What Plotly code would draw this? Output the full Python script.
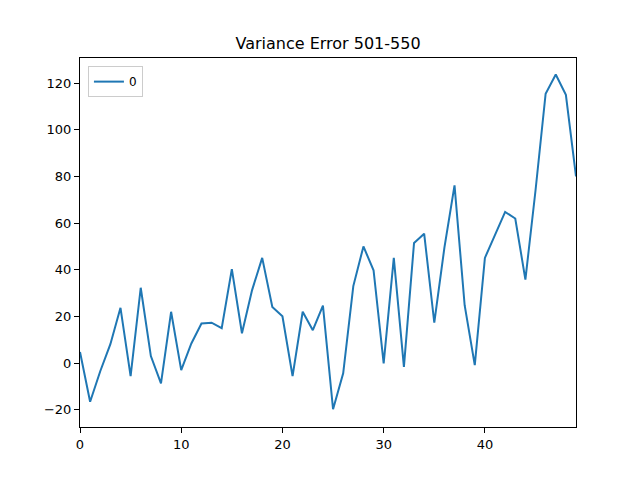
import plotly.graph_objs as go

# 501-550 구간 분산 오차
idx = list(range(50))
err = [4.8, -16.6, -3.5, 8.1, 23.7, -5.6, 32.3, 3.0, -8.7, 22.0,
       -3.0, 8.4, 17.0, 17.3, 15.0, 40.3, 12.8, 31.3, 45.1, 24.1,
       20.1, -5.6, 22.0, 14.1, 24.6, -19.8, -4.4, 33.0, 50.0, 39.8,
       -0.1, 45.1, -1.6, 51.5, 55.5, 17.3, 49.5, 76.2, 24.8, -0.9,
       45.1, 55.2, 64.8, 62.0, 35.8, 74.0, 115.5, 123.7, 115.0, 80.0]

fig = go.Figure()
fig.add_trace(go.Scatter(
    x=idx, y=err, mode='lines', name='0',
    line=dict(color='#1f77b4', width=2)
))

axis_style = dict(
    showline=True, linecolor='black', linewidth=1, mirror=True,
    ticks='outside', ticklen=5, tickcolor='black', showgrid=False,
    zeroline=False, tickfont=dict(size=13, color='black')
)

# 페이지 body 여백(8px)만큼 안쪽으로 보정
fig.update_layout(
    width=640, height=480,
    paper_bgcolor='white', plot_bgcolor='white',
    margin=dict(l=72, r=72, t=50, b=61),
    font=dict(family='DejaVu Sans', size=13, color='black'),
    title=dict(text='Variance Error 501-550', x=0.5, xanchor='center',
               y=1 - 35 / 480, yanchor='middle', yref='container',
               font=dict(size=16, color='black')),
    showlegend=True,
    legend=dict(x=0.016, y=0.978, xanchor='left', yanchor='top',
                bordercolor='#cccccc', borderwidth=1,
                font=dict(size=12), tracegroupgap=0),
)
fig.update_xaxes(range=[0, 49], tickvals=[0, 10, 20, 30, 40], **axis_style)
fig.update_yaxes(range=[-27.4, 130.8], tickvals=[-20, 0, 20, 40, 60, 80, 100, 120],
                 ticktext=['\u221220', '0', '20', '40', '60', '80', '100', '120'],
                 **axis_style)

fig.write_html("out.html")
